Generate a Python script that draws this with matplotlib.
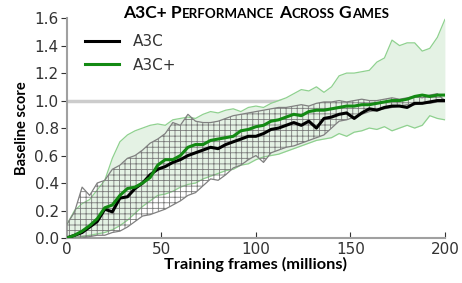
import numpy as np
import matplotlib
matplotlib.use('Agg')
import matplotlib.pyplot as plt
from matplotlib.offsetbox import TextArea, DrawingArea, HPacker, AnchoredOffsetbox

# Datos (millones de frames, cada 4)
frames = np.arange(0, 201, 4)

a3c_mean = [0.00, 0.02, 0.04, 0.08, 0.12, 0.21, 0.19, 0.29, 0.30, 0.36, 0.40, 0.46, 0.50,
            0.52, 0.55, 0.57, 0.60, 0.62, 0.64, 0.66, 0.65, 0.68, 0.70, 0.72, 0.74, 0.74,
            0.76, 0.79, 0.80, 0.82, 0.84, 0.82, 0.85, 0.80, 0.87, 0.88, 0.90, 0.91, 0.87,
            0.91, 0.94, 0.93, 0.95, 0.96, 0.96, 0.95, 0.98, 0.98, 0.99, 1.00, 1.00]
a3c_low = [0.00, 0.00, 0.00, 0.01, 0.02, 0.02, 0.04, 0.05, 0.08, 0.12, 0.16, 0.17, 0.19,
           0.21, 0.24, 0.27, 0.31, 0.33, 0.38, 0.43, 0.42, 0.46, 0.51, 0.53, 0.57, 0.60,
           0.55, 0.62, 0.64, 0.66, 0.67, 0.69, 0.71, 0.73, 0.75, 0.80, 0.85, 0.86, 0.88,
           0.90, 0.92, 0.93, 0.94, 0.95, 0.96, 0.97, 0.97, 0.98, 0.98, 0.99, 0.99]
a3c_high = [0.10, 0.19, 0.37, 0.31, 0.40, 0.42, 0.50, 0.53, 0.58, 0.60, 0.64, 0.69, 0.72,
            0.76, 0.84, 0.82, 0.90, 0.85, 0.84, 0.84, 0.85, 0.87, 0.89, 0.90, 0.91, 0.92,
            0.93, 0.94, 0.95, 0.95, 0.96, 0.97, 0.96, 0.98, 0.99, 0.99, 1.00, 0.99, 1.00,
            1.01, 1.00, 1.00, 1.01, 1.02, 1.01, 1.02, 1.03, 1.02, 1.04, 1.05, 1.00]

a3cp_mean = [0.00, 0.02, 0.05, 0.09, 0.14, 0.22, 0.24, 0.31, 0.36, 0.37, 0.40, 0.44, 0.53,
             0.57, 0.57, 0.60, 0.66, 0.68, 0.68, 0.71, 0.72, 0.73, 0.74, 0.78, 0.79, 0.81,
             0.82, 0.85, 0.86, 0.88, 0.90, 0.89, 0.92, 0.93, 0.93, 0.94, 0.95, 0.96, 0.96,
             0.97, 0.97, 0.98, 0.99, 1.00, 1.00, 1.01, 1.03, 1.04, 1.03, 1.04, 1.04]
a3cp_low = [0.00, 0.00, 0.01, 0.02, 0.03, 0.04, 0.06, 0.09, 0.13, 0.18, 0.23, 0.27, 0.31,
            0.32, 0.34, 0.37, 0.39, 0.40, 0.43, 0.45, 0.47, 0.49, 0.50, 0.53, 0.54, 0.57,
            0.59, 0.60, 0.61, 0.63, 0.65, 0.67, 0.69, 0.71, 0.72, 0.73, 0.76, 0.74, 0.77,
            0.78, 0.80, 0.79, 0.81, 0.78, 0.80, 0.82, 0.80, 0.82, 0.89, 0.87, 0.86]
a3cp_high = [0.10, 0.20, 0.25, 0.28, 0.35, 0.42, 0.58, 0.70, 0.75, 0.78, 0.80, 0.82, 0.83,
             0.82, 0.86, 0.87, 0.88, 0.87, 0.90, 0.92, 0.91, 0.93, 0.94, 0.92, 0.95, 0.96,
             0.95, 0.98, 1.00, 1.02, 1.05, 1.08, 1.07, 1.10, 1.06, 1.10, 1.18, 1.20, 1.20,
             1.21, 1.22, 1.28, 1.31, 1.44, 1.40, 1.42, 1.42, 1.36, 1.38, 1.46, 1.59]

plt.rcParams['hatch.linewidth'] = 0.6

fig = plt.figure(figsize=(4.62, 2.83), dpi=100)
ax = fig.add_axes([0.145, 0.159, 0.818, 0.777])

verde = '#138a13'
verde_claro = '#8fd18f'

# Línea de referencia
ax.axhline(1.0, color='#cccccc', lw=2.5, zorder=1)

# Banda A3C+
ax.fill_between(frames, a3cp_low, a3cp_high, color='#e4f2e4', lw=0, zorder=2)
ax.plot(frames, a3cp_low, color=verde_claro, lw=0.9, zorder=3)
ax.plot(frames, a3cp_high, color=verde_claro, lw=0.9, zorder=3)

# Banda A3C con rayado
ax.fill_between(frames, a3c_low, a3c_high, facecolor='none', edgecolor='#7a7a7a',
                hatch='+++', lw=0, zorder=4)
ax.plot(frames, a3c_low, color='#808080', lw=0.9, zorder=5)
ax.plot(frames, a3c_high, color='#808080', lw=0.9, zorder=5)

# Medias
ax.plot(frames, a3c_mean, color='black', lw=2.2, zorder=6, label='A3C')
ax.plot(frames, a3cp_mean, color=verde, lw=2.2, zorder=7, label='A3C+')

ax.set_xlim(0, 200)
ax.set_ylim(0, 1.6)
ax.set_xticks([0, 50, 100, 150, 200])
ax.set_yticks(np.arange(0, 1.61, 0.2))
ax.yaxis.set_major_formatter(matplotlib.ticker.FormatStrFormatter('%.1f'))

for s in ['top', 'right']:
    ax.spines[s].set_visible(False)
for s in ['left', 'bottom']:
    ax.spines[s].set_color('#a0a0a0')
    ax.spines[s].set_linewidth(1.5)
ax.tick_params(axis='x', direction='in', length=4, color='#333333', labelsize=11,
               labelcolor='#333333', pad=3)
ax.tick_params(axis='y', direction='out', length=4, color='#333333', labelsize=11,
               labelcolor='#333333', pad=2)

ax.set_xlabel('Training frames (millions)', family='Lato', weight='bold', fontsize=11.8,
              labelpad=0)
ax.set_ylabel('Baseline score', family='Lato', weight='bold', fontsize=10.5, labelpad=4)

leg = ax.legend(loc='upper left', frameon=False, fontsize=11, handlelength=2.2,
                handletextpad=0.9, borderaxespad=0.3, labelspacing=0.55,
                bbox_to_anchor=(0.02, 0.975))
for t in leg.get_texts():
    t.set_color('#333333')

# Título en versalitas
grande = dict(family='Lato', weight='bold', size=12.5, color='black')
chica = dict(family='Lato', weight='bold', size=9.6, color='black')
partes = [TextArea('A3C+ P', textprops=grande), TextArea('ERFORMANCE', textprops=chica),
          DrawingArea(2.6, 1), TextArea('A', textprops=grande), TextArea('CROSS', textprops=chica),
          DrawingArea(2.6, 1), TextArea('G', textprops=grande), TextArea('AMES', textprops=chica)]
caja = HPacker(children=partes, align='baseline', pad=0, sep=0.3)
titulo = AnchoredOffsetbox(loc='lower center', child=caja, frameon=False, pad=0,
                           bbox_to_anchor=(0.5, 0.985), bbox_transform=ax.transAxes,
                           borderpad=0)
ax.add_artist(titulo)

fig.savefig('out.png', dpi=100)
